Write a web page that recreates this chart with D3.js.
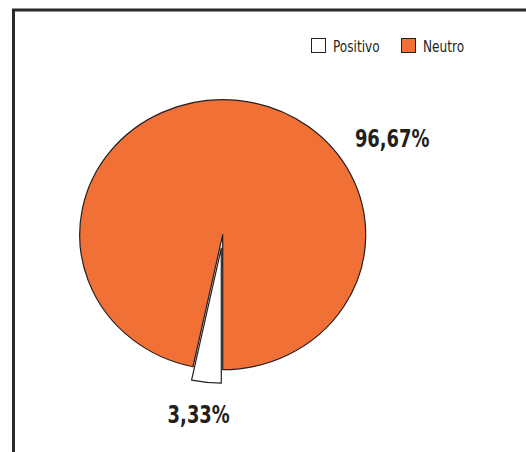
<!DOCTYPE html>
<html>
<head>
<meta charset="utf-8">
<script src="https://cdn.jsdelivr.net/npm/d3@7"></script>
<style>
html,body{margin:0;padding:0;background:#fff;}
svg{display:block;}
</style>
</head>
<body>
<svg id="chart" width="526" height="452"></svg>
<script>
const categories = ["Positivo", "Neutro"];
const values = [3.33, 96.67];
const labels = ["3,33%", "96,67%"];
const colors = ["#ffffff", "#f07035"];

const FONT = "'DejaVu Sans Condensed','Liberation Sans',sans-serif";
const svg = d3.select("#chart");

// frame
svg.append("rect").attr("x", 13.5).attr("y", 10).attr("width", 540).attr("height", 470)
  .attr("fill", "none").attr("stroke", "#2b2a2a").attr("stroke-width", 3);

const cx = 222.7, cy = 234.7, rx = 143, ry = 135;
const pie = d3.pie().sort(null).value(d => d).startAngle(Math.PI).endAngle(3 * Math.PI);
const arcs = pie(values);
const arc = d3.arc().innerRadius(0).outerRadius(rx);

const g = svg.append("g").attr("transform", `translate(${cx},${cy}) scale(1,${ry / rx})`);
const explode = [13.5, 0];
[1, 0].forEach(i => {
  const a = arcs[i];
  const mid = (a.startAngle + a.endAngle) / 2;
  const dx = Math.sin(mid) * explode[i];
  const dy = -Math.cos(mid) * explode[i] * rx / ry;
  g.append("path")
    .attr("d", arc(a))
    .attr("transform", `translate(${dx},${dy})`)
    .attr("fill", colors[i])
    .attr("stroke", "#231f20")
    .attr("stroke-width", 1.2)
    .attr("vector-effect", "non-scaling-stroke")
    .attr("stroke-linejoin", "round");
});

// data labels
const labelPos = [[cx - 24, cy + 188], [cx + 169.5, cy - 88]];
labels.forEach((t, i) => {
  svg.append("g").attr("transform", `translate(${labelPos[i][0]},${labelPos[i][1]}) scale(0.83,1)`)
    .append("text")
    .attr("text-anchor", "middle")
    .attr("font-family", FONT).attr("font-weight", "bold").attr("font-size", 24)
    .attr("fill", "#231f20").text(t);
});

// legend
const legX = [311, 401];
categories.forEach((c, i) => {
  svg.append("rect").attr("x", legX[i] + 0.5).attr("y", 38.5).attr("width", 14).attr("height", 14)
    .attr("fill", colors[i]).attr("stroke", "#231f20").attr("stroke-width", 1);
  svg.append("g").attr("transform", `translate(${legX[i] + 22},51.5) scale(0.9,1)`)
    .append("text")
    .attr("font-family", FONT).attr("font-size", 15).attr("fill", "#231f20").text(c);
});
</script>
</body>
</html>
